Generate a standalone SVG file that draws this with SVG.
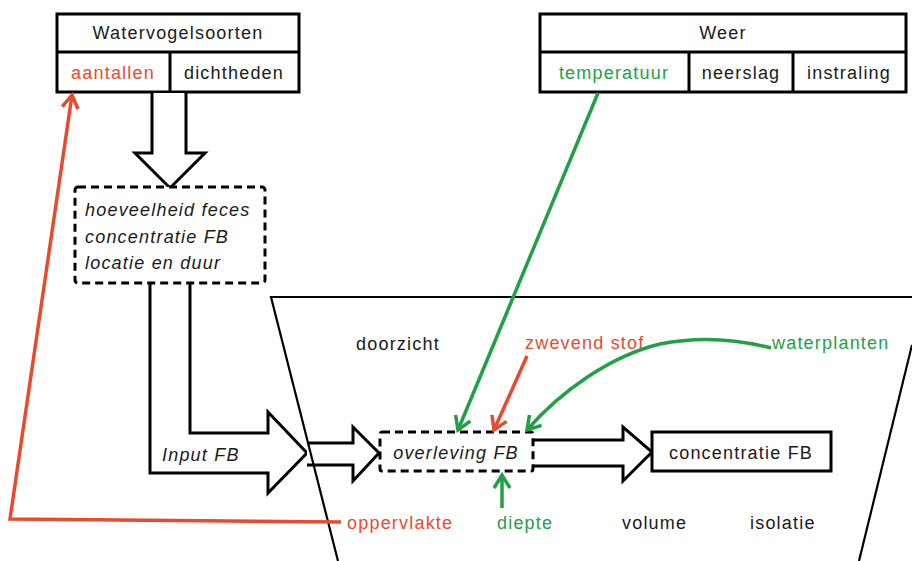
<svg xmlns="http://www.w3.org/2000/svg" width="912" height="561" viewBox="0 0 912 561">
<defs>
<style>
text{font-family:"Liberation Sans",Arial,sans-serif;font-size:18px;letter-spacing:1.2px;fill:#1a1a1a}
.it{font-style:italic}
.mid{text-anchor:middle}
.red{fill:#e84a2f}
.grn{fill:#22a046}
.box{fill:#fff;stroke:#000;stroke-width:3}
.dash{fill:#fff;stroke:#000;stroke-width:3;stroke-dasharray:8 5}
.ln{fill:none;stroke:#000;stroke-width:3}
.hollow{fill:#fff;stroke:#000;stroke-width:3;stroke-linejoin:miter}
.trap{fill:none;stroke:#000;stroke-width:2.2}
.cr{fill:none;stroke:#e84a2f;stroke-width:3.5}
.cg{fill:none;stroke:#22a046;stroke-width:3.5}
</style>
<marker id="ar" markerUnits="userSpaceOnUse" markerWidth="20" markerHeight="20" refX="16" refY="10" orient="auto">
<path d="M3,2 L16,10 L3,18" fill="none" stroke="#e84a2f" stroke-width="3.5"/>
</marker>
<marker id="ag" markerUnits="userSpaceOnUse" markerWidth="20" markerHeight="20" refX="16" refY="10" orient="auto">
<path d="M3,2 L16,10 L3,18" fill="none" stroke="#22a046" stroke-width="3.5"/>
</marker>
</defs>
<rect width="912" height="561" fill="#fff"/>

<g id="watervogelsoorten">
<rect class="box" x="57" y="14" width="242" height="78"/>
<line class="ln" x1="57" y1="52" x2="299" y2="52"/>
<line class="ln" x1="170" y1="52" x2="170" y2="92"/>
<text class="mid" x="178" y="39">Watervogelsoorten</text>
<text class="mid red" x="113" y="79">aantallen</text>
<text class="mid" x="234" y="79">dichtheden</text>
</g>

<g id="weer">
<rect class="box" x="540" y="14" width="366" height="78"/>
<line class="ln" x1="540" y1="52" x2="906" y2="52"/>
<line class="ln" x1="689" y1="52" x2="689" y2="92"/>
<line class="ln" x1="793" y1="52" x2="793" y2="92"/>
<text class="mid" x="723" y="39">Weer</text>
<text class="mid grn" x="614" y="79">temperatuur</text>
<text class="mid" x="741" y="79">neerslag</text>
<text class="mid" x="849" y="79">instraling</text>
</g>

<g id="arrows-hollow">
<path class="hollow" d="M152,93 V153 H135 L170,188 L205,153 H186 V93"/>
<path class="hollow" d="M150,284 V473 H268 V493 L307,453 L268,412 V433 H190 V284" stroke-width="2.5"/>
<path class="hollow" d="M307,443 H353 V427 L379,453 L353,481 V465 H307"/>
<path class="hollow" d="M534,440 H623 V427 L652,452 L623,481 V466 H534"/>
</g>

<g id="input">
<rect class="dash" x="75" y="187" width="190" height="96" rx="3"/>
<text class="it" x="85" y="216">hoeveelheid feces</text>
<text class="it" x="85" y="243">concentratie FB</text>
<text class="it" x="85" y="269">locatie en duur</text>
</g>

<g id="input-fb">
<text class="it" x="162" y="461">Input FB</text>
</g>

<g id="water">
<path class="trap" d="M912,297 H271 L338,561"/>
<path class="trap" d="M912,345 L859,561"/>
</g>

<g id="overleving">
<rect class="dash" x="380" y="432" width="153" height="39" rx="2"/>
<text class="it mid" x="456" y="459">overleving FB</text>
</g>

<g id="concentratie">
<rect class="box" x="652" y="432" width="179" height="39"/>
<text class="mid" x="741" y="459">concentratie FB</text>
</g>

<g id="factors">
<text x="356" y="350">doorzicht</text>
<text class="red" x="525" y="349">zwevend stof</text>
<text class="grn" x="772" y="349">waterplanten</text>
<text class="red" x="347" y="529">oppervlakte</text>
<text class="grn" x="497" y="529">diepte</text>
<text x="622" y="529">volume</text>
<text x="750" y="529">isolatie</text>
</g>

<g id="connectors">
<path class="cg" d="M598,93 L458,430" marker-end="url(#ag)"/>
<path class="cr" d="M527,356 L494,430" marker-end="url(#ar)"/>
<path class="cg" d="M771,348 C740,340 700,336 660,344 C610,356 560,392 527,430" marker-end="url(#ag)"/>
<path class="cg" d="M502,508 L502,475" marker-end="url(#ag)"/>
<path class="cr" d="M341,522 L10,519 L72,95" marker-end="url(#ar)"/>
</g>
</svg>
